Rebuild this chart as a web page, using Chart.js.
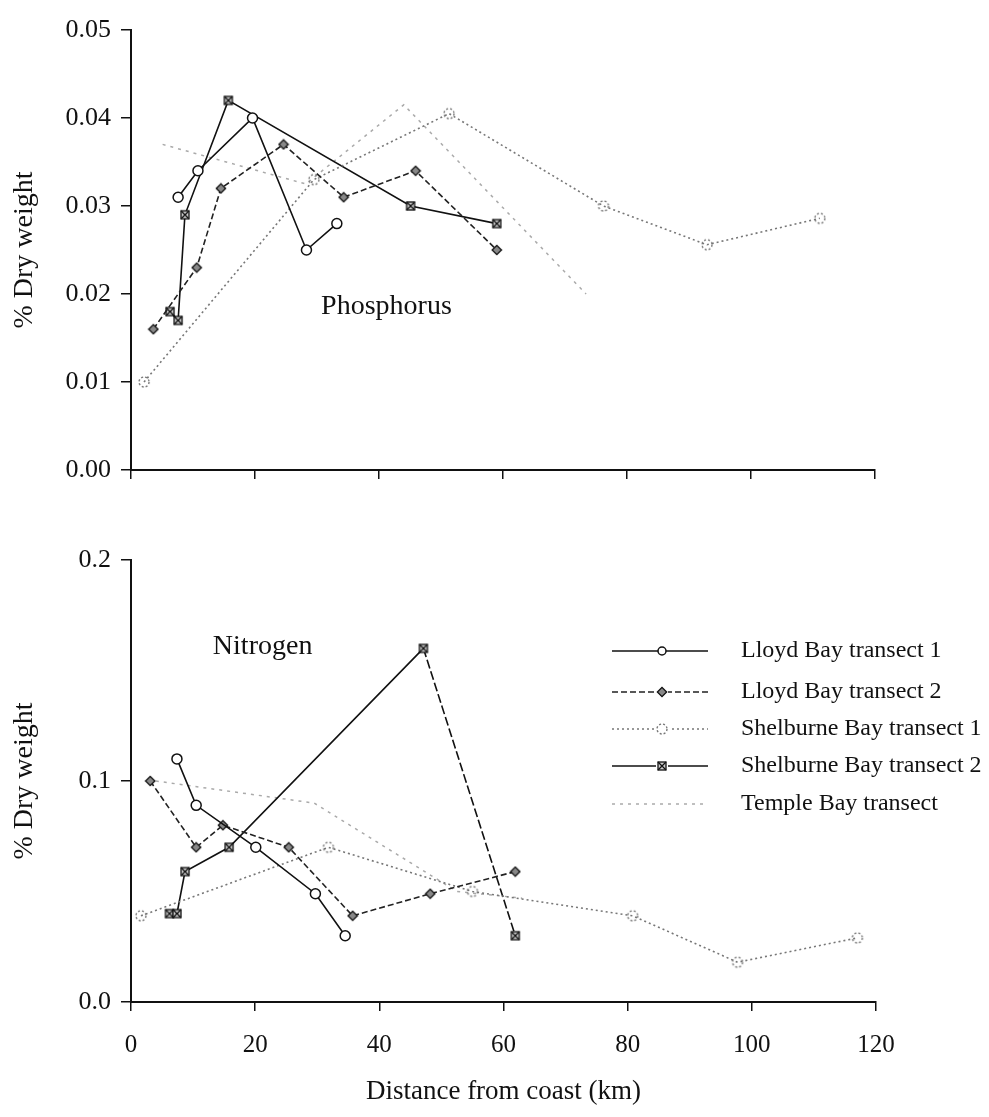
<!DOCTYPE html>
<html>
<head>
<meta charset="utf-8">
<script src="https://cdn.jsdelivr.net/npm/chart.js@4.4.1/dist/chart.umd.min.js"></script>
<style>
body { margin: 0; background: #fff; }
canvas { position: absolute; left: 0; }
#phos { top: 0; }
#nitro { top: 500px; }
</style>
</head>
<body>
<canvas id="phos" width="989" height="500"></canvas>
<canvas id="nitro" width="989" height="617"></canvas>
<script>
// tick labels
const xTickLabels = ["0", "20", "40", "60", "80", "100", "120"];
const phosTickLabels = ["0.00", "0.01", "0.02", "0.03", "0.04", "0.05"];
const nitroTickLabels = ["0.0", "0.1", "0.2"];

const seriesNames = [
	"Lloyd Bay transect 1",
	"Lloyd Bay transect 2",
	"Shelburne Bay transect 1",
	"Shelburne Bay transect 2",
	"Temple Bay transect",
];

// Phosphorus, % dry weight vs distance from coast (km)
const lloyd1PDist = [7.6, 10.8, 19.6, 28.3, 33.2];
const lloyd1P = [0.031, 0.034, 0.040, 0.025, 0.028];
const lloyd2PDist = [3.6, 10.6, 14.5, 24.6, 34.3, 45.9, 59.0];
const lloyd2P = [0.016, 0.023, 0.032, 0.037, 0.031, 0.034, 0.025];
const shel1PDist = [2.1, 29.5, 51.3, 76.2, 92.9, 111.1];
const shel1P = [0.010, 0.033, 0.0405, 0.030, 0.0256, 0.0286];
const shel2PDist = [6.3, 7.6, 8.7, 15.7, 45.1, 59.0];
const shel2P = [0.018, 0.017, 0.029, 0.042, 0.030, 0.028];
const templePDist = [5.1, 28.2, 44.0, 73.4];
const templeP = [0.037, 0.0325, 0.0415, 0.020];

// Nitrogen, % dry weight vs distance from coast (km)
const lloyd1NDist = [7.4, 10.5, 20.1, 29.7, 34.5];
const lloyd1N = [0.110, 0.089, 0.070, 0.049, 0.030];
const lloyd2NDist = [3.1, 10.5, 14.8, 25.4, 35.7, 48.2, 61.9];
const lloyd2N = [0.100, 0.070, 0.080, 0.070, 0.039, 0.049, 0.059];
const shel1NDist = [1.6, 31.8, 55.0, 80.8, 97.7, 117.0];
const shel1N = [0.039, 0.070, 0.050, 0.039, 0.018, 0.029];
const shel2NDist = [6.2, 7.4, 8.7, 15.8, 47.1, 61.9];
const shel2N = [0.040, 0.040, 0.059, 0.070, 0.160, 0.030];
const templeNDist = [4.0, 29.5, 52.5, 63.0];
const templeN = [0.100, 0.090, 0.050, 0.047];

const serif = "'Liberation Serif', 'Times New Roman', serif";
const ink = "#111";

function pts(xs, ys) {
	return xs.map((x, i) => ({ x: x, y: ys[i] }));
}

// little canvases used as point markers
function marker(size, draw) {
	const c = document.createElement("canvas");
	c.width = size;
	c.height = size;
	draw(c.getContext("2d"), size);
	return c;
}
const diamondMark = marker(12, function (g) {
	g.translate(6, 6);
	g.rotate(Math.PI / 4);
	g.fillStyle = "#888";
	g.strokeStyle = ink;
	g.lineWidth = 1.3;
	g.fillRect(-3.3, -3.3, 6.6, 6.6);
	g.strokeRect(-3.3, -3.3, 6.6, 6.6);
});
const crossSquare = marker(12, function (g) {
	g.fillStyle = "#ccc";
	g.strokeStyle = ink;
	g.lineWidth = 1.3;
	g.fillRect(2, 2, 8, 8);
	g.strokeRect(2, 2, 8, 8);
	g.beginPath();
	g.moveTo(2, 2); g.lineTo(10, 10);
	g.moveTo(10, 2); g.lineTo(2, 10);
	g.stroke();
});
const dashCircle = marker(14, function (g) {
	g.strokeStyle = "#777";
	g.lineWidth = 1.4;
	g.setLineDash([2, 2]);
	g.beginPath();
	g.arc(7, 7, 5, 0, Math.PI * 2);
	g.stroke();
});

const looks = [
	{ borderColor: ink, borderWidth: 1.6, borderDash: [], pointStyle: "circle", pointRadius: 5, pointBackgroundColor: "#fff", pointBorderColor: ink, pointBorderWidth: 1.5 },
	{ borderColor: "#222", borderWidth: 1.6, borderDash: [6, 3], pointStyle: diamondMark, pointRadius: 6 },
	{ borderColor: "#777", borderWidth: 1.6, borderDash: [2, 3], pointStyle: dashCircle, pointRadius: 7 },
	{ borderColor: ink, borderWidth: 1.6, borderDash: [], pointStyle: crossSquare, pointRadius: 6 },
	{ borderColor: "#aaa", borderWidth: 1.5, borderDash: [3, 5], pointRadius: 0 },
];

function makeSets(list) {
	return list.map((d, i) => Object.assign({
		label: seriesNames[i],
		data: pts(d[0], d[1]),
		fill: false,
		tension: 0,
	}, looks[i]));
}

// panel label ("Phosphorus", "Nitrogen")
function panelLabel(text, x, y) {
	return {
		id: "panelLabel",
		afterDatasetsDraw(chart) {
			const ctx = chart.ctx;
			ctx.save();
			ctx.font = "28px " + serif;
			ctx.fillStyle = ink;
			ctx.textAlign = "center";
			ctx.textBaseline = "middle";
			ctx.fillText(text, chart.scales.x.getPixelForValue(x), chart.scales.y.getPixelForValue(y));
			ctx.restore();
		},
	};
}

// legend drawn inside the nitrogen panel
const legendBox = {
	id: "legendBox",
	afterDraw(chart) {
		const ctx = chart.ctx;
		const rows = [151, 192, 229, 266, 304];
		ctx.save();
		chart.data.datasets.forEach((ds, i) => {
			const y = rows[i];
			ctx.strokeStyle = ds.borderColor;
			ctx.lineWidth = ds.borderWidth;
			ctx.setLineDash(ds.borderDash);
			ctx.beginPath();
			ctx.moveTo(612, y);
			ctx.lineTo(708, y);
			ctx.stroke();
			ctx.setLineDash([]);
			if (ds.pointRadius > 0) {
				if (ds.pointStyle === "circle") {
					ctx.fillStyle = "#fff";
					ctx.lineWidth = 1.5;
					ctx.beginPath();
					ctx.arc(662, y, 4, 0, Math.PI * 2);
					ctx.fill();
					ctx.stroke();
				} else {
					const img = ds.pointStyle;
					ctx.fillStyle = "#fff";
					ctx.fillRect(662 - img.width / 2, y - 3, img.width, 6);
					ctx.drawImage(img, 662 - img.width / 2, y - img.height / 2);
				}
			}
			ctx.fillStyle = ink;
			ctx.font = "24px " + serif;
			ctx.textAlign = "left";
			ctx.textBaseline = "middle";
			ctx.fillText(ds.label, 741, y);
		});
		ctx.restore();
	},
};

function makeOptions(yMax, yStep, yLabels, bottomAxis, pad) {
	return {
		responsive: false,
		animation: false,
		devicePixelRatio: 1,
		layout: { padding: pad },
		plugins: { legend: { display: false }, tooltip: { enabled: false } },
		scales: {
			x: {
				type: "linear",
				min: 0,
				max: 120,
				ticks: {
					stepSize: 20,
					display: bottomAxis,
					color: ink,
					font: { family: serif, size: 25 },
					padding: 19,
					maxRotation: 0,
					callback: (v, i) => xTickLabels[i],
				},
				grid: { drawOnChartArea: false, color: ink, lineWidth: 1.5, tickLength: 9 },
				border: { color: ink, width: 2 },
				title: {
					display: bottomAxis,
					text: "Distance from coast (km)",
					color: ink,
					font: { family: serif, size: 27 },
					padding: { top: 0, bottom: 9 },
				},
				afterFit: (s) => { s.height = bottomAxis ? 115 : 30; },
			},
			y: {
				min: 0,
				max: yMax,
				ticks: {
					stepSize: yStep,
					color: ink,
					font: { family: serif, size: 26 },
					padding: 10,
					callback: (v, i) => yLabels[i],
				},
				grid: { drawOnChartArea: false, color: ink, lineWidth: 1.5, tickLength: 10 },
				border: { color: ink, width: 2 },
				title: {
					display: true,
					text: "% Dry weight",
					color: ink,
					font: { family: serif, size: 28 },
					padding: { top: 8, bottom: 0 },
				},
				afterFit: (s) => { s.width = 131; },
			},
		},
	};
}

new Chart(document.getElementById("phos"), {
	type: "line",
	data: {
		datasets: makeSets([
			[lloyd1PDist, lloyd1P],
			[lloyd2PDist, lloyd2P],
			[shel1PDist, shel1P],
			[shel2PDist, shel2P],
			[templePDist, templeP],
		]),
	},
	options: makeOptions(0.05, 0.01, phosTickLabels, false, { top: 30, right: 114, left: 0, bottom: 0 }),
	plugins: [panelLabel("Phosphorus", 41.2, 0.0186)],
});

const nitroSets = makeSets([
	[lloyd1NDist, lloyd1N],
	[lloyd2NDist, lloyd2N],
	[shel1NDist, shel1N],
	[shel2NDist, shel2N],
	[templeNDist, templeN],
]);
// the drop after the offshore peak is drawn dashed in the original
nitroSets[3].segment = {
	borderDash: (c) => (c.p0DataIndex === 4 ? [9, 3] : undefined),
};

new Chart(document.getElementById("nitro"), {
	type: "line",
	data: { datasets: nitroSets },
	options: makeOptions(0.2, 0.1, nitroTickLabels, true, { top: 60, right: 113, left: 0, bottom: 0 }),
	plugins: [panelLabel("Nitrogen", 21.2, 0.1606), legendBox],
});
</script>
</body>
</html>
